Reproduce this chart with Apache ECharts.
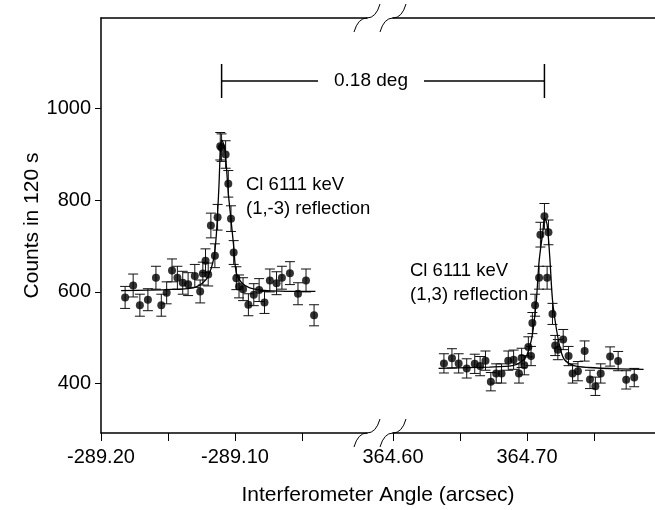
<!DOCTYPE html>
<html>
<head>
<meta charset="utf-8">
<script src="https://cdn.jsdelivr.net/npm/echarts@6/dist/echarts.min.js"></script>
<style>
  html, body { margin: 0; padding: 0; background: #fff; }
  #chart { width: 655px; height: 510px; }
</style>
</head>
<body>
<div id="chart"></div>
<script>
// (1,-3) reflection, left side of the broken axis
var leftX = [-289.182, -289.176, -289.171, -289.165, -289.159, -289.155, -289.151, -289.147,
  -289.143, -289.139, -289.135, -289.130, -289.126, -289.124, -289.122, -289.120, -289.118,
  -289.115, -289.113, -289.111, -289.110, -289.107, -289.105, -289.103, -289.101, -289.099,
  -289.097, -289.094, -289.090, -289.086, -289.082, -289.078, -289.074, -289.069, -289.065,
  -289.059, -289.053, -289.047, -289.041];
var leftY = [588, 614, 571, 583, 631, 571, 598, 647, 631, 620, 617, 635, 601, 640, 668, 638, 745,
  679, 763, 918, 915, 900, 836, 760, 686, 630, 612, 606, 572, 594, 604, 577, 625, 619, 631,
  641, 596, 625, 549];
var leftErr = [24, 25, 24, 24, 25, 24, 24, 25, 25, 25, 25, 25, 25, 25, 26, 25, 27, 26, 28, 30,
  30, 30, 29, 28, 26, 25, 25, 25, 24, 24, 25, 24, 25, 25, 25, 25, 24, 25, 23];
var leftFitX = [-289.185, -289.151, -289.131, -289.124, -289.120, -289.116, -289.114, -289.112,
  -289.111, -289.110, -289.108, -289.107, -289.105, -289.103, -289.101, -289.099, -289.095,
  -289.089, -289.076, -289.040];
var leftFitY = [603, 605, 609, 620, 634, 671, 722, 830, 905, 932, 918, 896, 816, 758, 700, 641,
  620, 609, 603, 601];

// (1,3) reflection, right side of the broken axis
var rightX = [364.638, 364.644, 364.649, 364.655, 364.661, 364.665, 364.669, 364.673, 364.677,
  364.681, 364.686, 364.690, 364.694, 364.696, 364.698, 364.701, 364.703, 364.704, 364.706,
  364.709, 364.710, 364.713, 364.715, 364.716, 364.719, 364.721, 364.723, 364.727, 364.731,
  364.734, 364.738, 364.743, 364.747, 364.751, 364.755, 364.762, 364.768, 364.774, 364.780];
var rightY = [444, 455, 444, 433, 443, 438, 450, 404, 422, 422, 450, 452, 422, 456, 440, 480, 460,
  532, 571, 631, 725, 765, 631, 730, 552, 483, 474, 496, 460, 422, 427, 471, 409, 394, 422,
  459, 449, 408, 413];
var rightErr = [21, 21, 21, 21, 21, 21, 21, 20, 21, 21, 21, 21, 21, 21, 21, 22, 21, 23, 24, 25,
  27, 28, 25, 27, 23, 22, 22, 22, 21, 21, 21, 22, 20, 20, 21, 21, 21, 20, 20];
var rightFitX = [364.634, 364.672, 364.689, 364.696, 364.700, 364.704, 364.707, 364.709, 364.712,
  364.713, 364.715, 364.717, 364.719, 364.722, 364.725, 364.728, 364.735, 364.746, 364.769,
  364.787];
var rightFitY = [433, 436, 439, 448, 463, 507, 583, 666, 736, 762, 747, 675, 583, 518, 474, 452,
  439, 435, 432, 431];

var leftTicks = [-289.20, -289.15, -289.10, -289.05];
var leftLabels = [-289.20, -289.10];
var rightTicks = [364.60, 364.65, 364.70, 364.75];
var rightLabels = [364.60, 364.70];
var yTicks = [400, 600, 800, 1000];
var peakX = [-289.110, 364.713];

var font = "'Liberation Sans', Arial, sans-serif";
var chart = echarts.init(document.getElementById('chart'));

function pack(xs, ys, es) {
  return xs.map(function (x, i) {
    return es ? [x, ys[i], es[i]] : [x, ys[i]];
  });
}

function errorBar(params, api) {
  var x = api.value(0);
  var top = api.coord([x, api.value(1) + api.value(2)]);
  var bot = api.coord([x, api.value(1) - api.value(2)]);
  var w = 5;
  var st = { stroke: '#111', lineWidth: 1 };
  return {
    type: 'group',
    children: [
      { type: 'line', shape: { x1: top[0], y1: top[1], x2: bot[0], y2: bot[1] }, style: st },
      { type: 'line', shape: { x1: top[0] - w, y1: top[1], x2: top[0] + w, y2: top[1] }, style: st },
      { type: 'line', shape: { x1: bot[0] - w, y1: bot[1], x2: bot[0] + w, y2: bot[1] }, style: st }
    ]
  };
}

function bottomAxis(grid, min, max, ticks, labels) {
  return {
    type: 'value',
    gridIndex: grid,
    position: 'bottom',
    min: min,
    max: max,
    axisLine: { show: true, onZero: false, lineStyle: { color: '#000', width: 1.5 } },
    axisTick: { show: true, length: 8, customValues: ticks, lineStyle: { color: '#000', width: 1 } },
    axisLabel: {
      customValues: labels,
      margin: 14,
      color: '#000',
      fontSize: 20,
      fontFamily: font,
      formatter: function (v) { return v.toFixed(2); }
    },
    splitLine: { show: false }
  };
}

function topAxis(grid, min, max) {
  return {
    type: 'value',
    gridIndex: grid,
    position: 'top',
    min: min,
    max: max,
    axisLine: { show: true, onZero: false, lineStyle: { color: '#000', width: 1.5 } },
    axisTick: { show: false },
    axisLabel: { show: false },
    splitLine: { show: false }
  };
}

var yMin = 292, yMax = 1198;

var option = {
  animation: false,
  backgroundColor: '#fff',
  grid: [
    { left: 101, top: 18, width: 266, bottom: 77 },
    { left: 393, top: 18, right: 0, bottom: 77 }
  ],
  xAxis: [
    bottomAxis(0, -289.20, -289.0015, leftTicks, leftLabels),
    bottomAxis(1, 364.60, 364.7955, rightTicks, rightLabels),
    topAxis(0, -289.20, -289.0015),
    topAxis(1, 364.60, 364.7955)
  ],
  yAxis: [
    {
      type: 'value',
      gridIndex: 0,
      min: yMin,
      max: yMax,
      name: 'Counts in 120 s',
      nameLocation: 'middle',
      nameGap: 50,
      nameTextStyle: { color: '#000', fontSize: 21, fontFamily: font },
      axisLine: { show: true, lineStyle: { color: '#000', width: 1.5 } },
      axisTick: { show: true, length: 6, customValues: yTicks, lineStyle: { color: '#000' } },
      axisLabel: {
        customValues: yTicks, margin: 10, color: '#000', fontSize: 20, fontFamily: font,
        formatter: function (v) { return String(v); }
      },
      splitLine: { show: false }
    },
    { type: 'value', gridIndex: 1, min: yMin, max: yMax, show: false }
  ],
  series: [
    {
      type: 'custom', xAxisIndex: 0, yAxisIndex: 0, renderItem: errorBar,
      data: pack(leftX, leftY, leftErr), z: 1
    },
    {
      type: 'custom', xAxisIndex: 1, yAxisIndex: 1, renderItem: errorBar,
      data: pack(rightX, rightY, rightErr), z: 1
    },
    {
      type: 'line', xAxisIndex: 0, yAxisIndex: 0, data: pack(leftFitX, leftFitY),
      showSymbol: false, smooth: 0.3, lineStyle: { color: '#000', width: 1.3 }, z: 2
    },
    {
      type: 'line', xAxisIndex: 1, yAxisIndex: 1, data: pack(rightFitX, rightFitY),
      showSymbol: false, smooth: 0.3, lineStyle: { color: '#000', width: 1.3 }, z: 2
    },
    {
      type: 'scatter', xAxisIndex: 0, yAxisIndex: 0, data: pack(leftX, leftY),
      symbolSize: 8, itemStyle: { color: '#000' }, z: 3
    },
    {
      type: 'scatter', xAxisIndex: 1, yAxisIndex: 1, data: pack(rightX, rightY),
      symbolSize: 8, itemStyle: { color: '#000' }, z: 3
    }
  ]
};
chart.setOption(option);

// axis break marks and annotations
function breakMark(x0, y) {
  var st = { stroke: '#000', lineWidth: 1, fill: 'none' };
  return [
    { type: 'bezierCurve', shape: { x1: x0 - 13, y1: y + 14, cpx1: x0 - 9, cpy1: y, x2: x0, y2: y }, style: st },
    { type: 'bezierCurve', shape: { x1: x0, y1: y, cpx1: x0 + 9, cpy1: y, x2: x0 + 13, y2: y - 14 }, style: st }
  ];
}

var pL = chart.convertToPixel({ xAxisIndex: 0, yAxisIndex: 0 }, [peakX[0], 1050]);
var pR = chart.convertToPixel({ xAxisIndex: 1, yAxisIndex: 1 }, [peakX[1], 1050]);
var barY = 81, midX = 371;
var lineSt = { stroke: '#000', lineWidth: 1.5 };
var txt = function (x, y, s, size, align) {
  return {
    type: 'text', x: x, y: y,
    style: { text: s, fill: '#000', fontSize: size, fontFamily: font, align: align || 'left', verticalAlign: 'middle' }
  };
};

var graphics = []
  .concat(breakMark(367, 18), breakMark(393, 18), breakMark(367, 433), breakMark(393, 433))
  .concat([
    { type: 'line', shape: { x1: pL[0], y1: barY - 17, x2: pL[0], y2: barY + 17 }, style: lineSt },
    { type: 'line', shape: { x1: pR[0], y1: barY - 17, x2: pR[0], y2: barY + 17 }, style: lineSt },
    { type: 'line', shape: { x1: pL[0], y1: barY, x2: midX - 53, y2: barY }, style: lineSt },
    { type: 'line', shape: { x1: midX + 53, y1: barY, x2: pR[0], y2: barY }, style: lineSt },
    txt(midX, barY, '0.18 deg', 19, 'center'),
    txt(246, 185, 'Cl 6111 keV', 18.5),
    txt(246, 209, '(1,-3) reflection', 18.5),
    txt(410, 271, 'Cl 6111 keV', 18.5),
    txt(410, 295, '(1,3) reflection', 18.5),
    txt(378, 495, 'Interferometer Angle (arcsec)', 21, 'center')
  ]);

chart.setOption({ graphic: graphics });
</script>
</body>
</html>
